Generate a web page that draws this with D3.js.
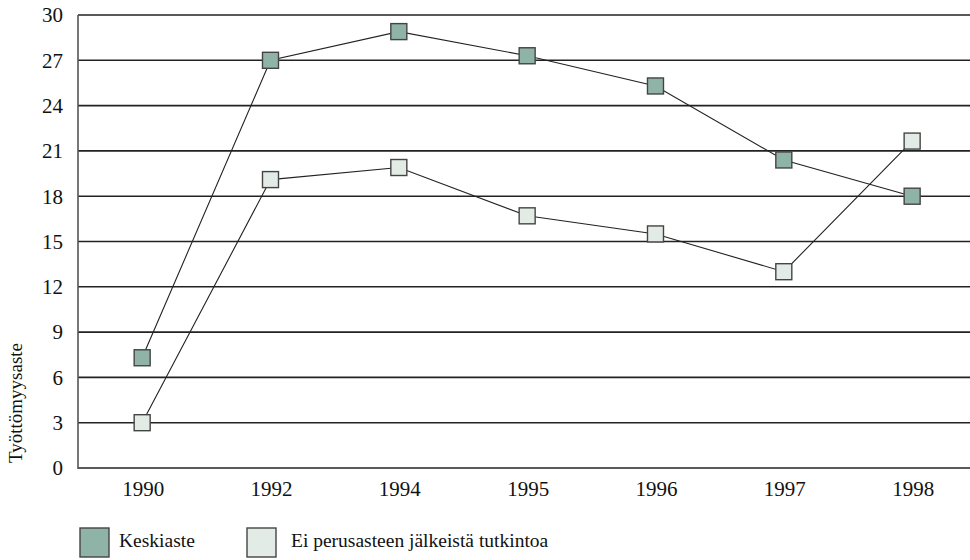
<!DOCTYPE html>
<html><head><meta charset="utf-8">
<script src="https://cdn.jsdelivr.net/npm/d3@7"></script>
<style>
html,body{margin:0;padding:0;background:#fff;}
svg{display:block;}
text{font-family:"Liberation Serif","Times New Roman",serif;fill:#111;}
</style></head>
<body>
<svg id="c" width="970" height="560"></svg>
<script>
const years = ["1990","1992","1994","1995","1996","1997","1998"];
const keskiaste = [7.3, 27.0, 28.9, 27.3, 25.3, 20.4, 18.0];
const eiPerus = [3.0, 19.1, 19.9, 16.7, 15.5, 13.0, 21.65];
const yTicks = [0,3,6,9,12,15,18,21,24,27,30];
const seriesNames = ["Keskiaste","Ei perusasteen jälkeistä tutkintoa"];
const seriesColors = ["#8fb3a7","#e3ebe6"];
const yTitle = "Työttömyysaste";

(function(){
const svg = d3.select("#c");
const mLeft = 78, mTop = 15, mBottom = 468, mRight = 970;
const x = d3.scaleBand().domain(years).range([mLeft, mLeft + 7*128.33]);
const y = d3.scaleLinear().domain([0,30]).range([mBottom, mTop]);
const cx = d => x(d) + x.bandwidth()/2;

svg.append("g").selectAll("line").data(yTicks).join("line")
  .attr("x1", mLeft).attr("x2", mRight)
  .attr("y1", d => y(d)).attr("y2", d => y(d))
  .attr("stroke", "#222").attr("stroke-width", 1.6);

svg.append("line").attr("x1", mLeft).attr("x2", mLeft)
  .attr("y1", mTop).attr("y2", mBottom+1)
  .attr("stroke", "#555").attr("stroke-width", 1.6);

svg.append("g").selectAll("text").data(yTicks).join("text")
  .attr("x", 63).attr("y", d => y(d)).attr("dy", "0.35em")
  .attr("text-anchor", "end").attr("font-size", 21)
  .text(d => d);

svg.append("g").selectAll("text").data(years).join("text")
  .attr("x", d => cx(d) + 1).attr("y", 496)
  .attr("text-anchor", "middle").attr("font-size", 21)
  .text(d => d);

svg.append("text")
  .attr("transform", "translate(22,463) rotate(-90)")
  .attr("text-anchor", "start").attr("font-size", 19)
  .text(yTitle);

const series = [keskiaste, eiPerus];
const line = d3.line().x((d,i) => cx(years[i])).y(d => y(d));
series.forEach((vals) => {
  svg.append("path").datum(vals).attr("d", line)
    .attr("fill", "none").attr("stroke", "#222").attr("stroke-width", 1.1);
});
series.forEach((vals, si) => {
  svg.append("g").selectAll("rect").data(vals).join("rect")
    .attr("x", (d,i) => cx(years[i]) - 8).attr("y", d => y(d) - 8)
    .attr("width", 16).attr("height", 16)
    .attr("fill", seriesColors[si]).attr("stroke", "#444").attr("stroke-width", 1.4);
});

const legX = [80, 247], legTextX = [119, 291];
seriesNames.forEach((n, i) => {
  svg.append("rect").attr("x", legX[i]).attr("y", 528)
    .attr("width", 29).attr("height", 29)
    .attr("fill", seriesColors[i]).attr("stroke", "#444").attr("stroke-width", 1.4);
  svg.append("text").attr("x", legTextX[i]).attr("y", 547)
    .attr("font-size", 19.5).text(n);
});
})();
</script>
</body></html>
